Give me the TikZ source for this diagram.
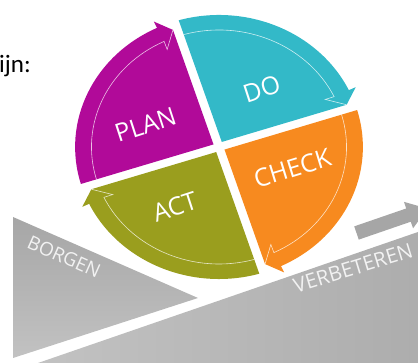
\documentclass[tikz,border=0pt]{standalone}
\usepackage{fontspec}
\setmainfont{Open Sans}
\newfontfamily\bodyfont{Carlito}
\usetikzlibrary{calc}

\definecolor{planc}{HTML}{B10A99}
\definecolor{doc}{HTML}{33B9C8}
\definecolor{checkc}{HTML}{F78A1F}
\definecolor{actc}{HTML}{9A9E1E}
\definecolor{greyA}{HTML}{A6A6A6}
\definecolor{greyB}{HTML}{C2C2C2}
\definecolor{greyC}{HTML}{ADADAD}
\definecolor{labelgrey}{HTML}{F2F2F2}

% One quarter of the cycle: a curved band ending in an arrow head at angle #1
\newcommand\pdcaquad[2]{%
  \pgfmathsetmacro\pdE{#1}%
  \pgfmathsetmacro\pdS{#1+90}%
  \pgfmathsetmacro\pdA{#1+88.26}%
  \pgfmathsetmacro\pdB{#1+7.5}%
  \pgfmathsetmacro\pdW{#1+88.04}%
  \pgfmathsetmacro\pdI{#1+8}%
  \fill[#2] ($(\pdE:4)+(\pdS:4)$) -- ($(\pdS:131.94)+(\pdE:4)$)
     arc[start angle=\pdA, end angle=\pdB, radius=132]
     -- (\pdB:139) -- ($(\pdE:124.4)+(\pdS:4)$) -- cycle;
  \draw[wheelline] ($(\pdS:116.93)+(\pdE:4)$)
     arc[start angle=\pdW, end angle=\pdB, radius=117]
     -- (\pdI:108.5) -- ($(\pdE:124.4)+(\pdS:4)$);
}

\begin{document}
\begin{tikzpicture}[x=1pt,y=1pt,
  wheelline/.style={draw=white, line width=0.6pt, opacity=0.75, line join=miter},
  wheellabel/.style={text=white, inner sep=0pt, font=\fontsize{25}{25}\selectfont, rotate=18},
  greylabel/.style={text=labelgrey, inner sep=0pt}]
\useasboundingbox (0,0) rectangle (418,363);
\clip (0,0) rectangle (418,363);

% ramp
\shade[left color=greyB, right color=greyC] (38,0) -- (418,131) -- (418,0) -- cycle;
% wedge on the left
\shade[shading angle=35, top color=greyA, bottom color=greyB] (13,146) -- (198,65) -- (13,5) -- cycle;
% small arrow along the ramp
\begin{scope}[shift={(356.5,130)}, rotate=19]
  \fill[greyA] (0,7) -- (55,7) -- (55,14) -- (75,0) -- (55,-14) -- (55,-7) -- (0,-7) -- cycle;
\end{scope}

% the cycle wheel
\begin{scope}[shift={(219,216)}, xscale=1.09]
  \pdcaquad{108}{planc}
  \pdcaquad{18}{doc}
  \pdcaquad{-72}{checkc}
  \pdcaquad{198}{actc}
\end{scope}

\node[wheellabel] (plan) at (145.5,238.5) {PLAN};
\node[wheellabel] (do) at (261.7,273.7) {DO};
\node[wheellabel, rotate=-1] (check) at (292.3,194.7) {CHECK};
\node[wheellabel] (act) at (175,156.3) {ACT};

\node[greylabel, rotate=-24, font=\fontsize{19}{19}\selectfont] (borgen) at (64,106.3) {BORGEN};
\node[greylabel, rotate=17, font=\fontsize{20.5}{20.5}\selectfont] (verbeteren) at (353,95) {VERBETEREN};

\node[anchor=base west, inner sep=0pt, font=\bodyfont\fontsize{25}{25}\selectfont] (intro) at (-1,290.7) {ijn:};
\end{tikzpicture}
\end{document}
